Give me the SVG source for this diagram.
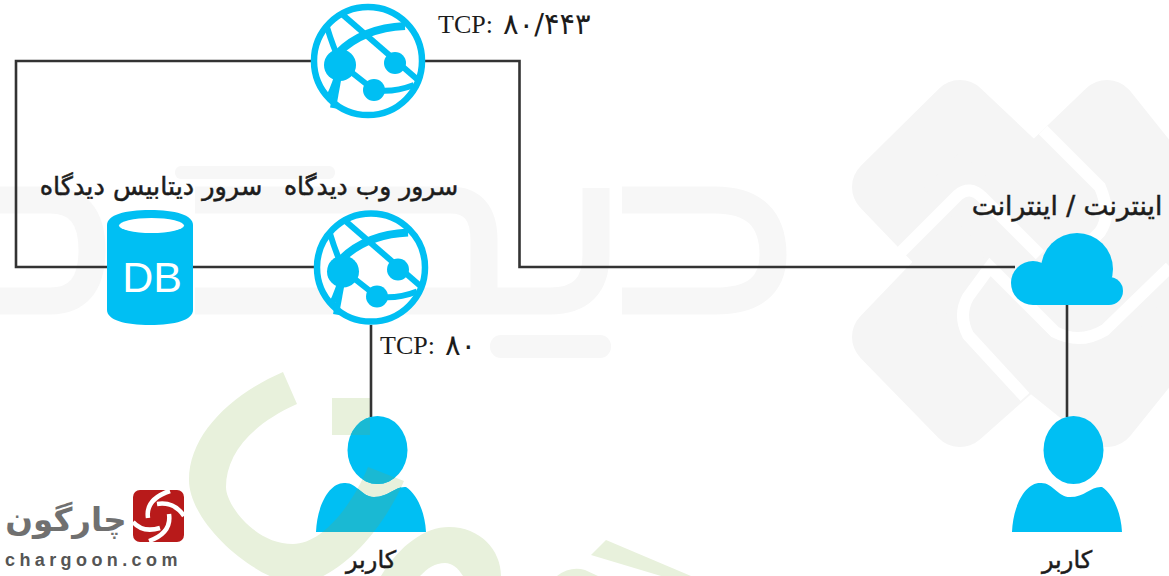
<svg xmlns="http://www.w3.org/2000/svg" width="1169" height="576" viewBox="0 0 1169 576">
<style>
.wm{fill:none;stroke:#f7f7f7;stroke-width:27}
.icon{fill:#00bff3}
.gl{fill:none;stroke:#00bff3;stroke-width:6}
.conn{fill:none;stroke:#333;stroke-width:2.6;stroke-linejoin:miter}
.fa{font-family:"DejaVu Sans","Noto Sans",sans-serif;fill:#1c1c1c;text-anchor:middle;font-weight:400;stroke:#1c1c1c;stroke-width:.5}
.tcp{font-family:"Liberation Serif",serif;font-size:26px;fill:#1c1c1c}
.dig{font-family:"DejaVu Sans",sans-serif;font-size:29px;fill:#1c1c1c}
.green{fill:#e8f1dc}
.over{fill:#1ab9d3}
</style>
<defs>
<g id="globe">
<circle r="54" fill="#fff" stroke="#00bff3" stroke-width="6.500"/>
<path class="gl" d="M-25,-46 L50,19"/>
<path class="gl" style="stroke-width:8" d="M-30,-8 Q-5,-33 37,-35"/>
<path class="gl" d="M-27,3 L6,29 Q25,32 46,24"/>
<path class="gl" d="M-27,3 Q-35,-14 -41,-34"/>
<path class="gl" d="M-27,3 Q-33,24 -39,36"/>
<path class="gl" d="M-27,3 L-35,47"/>
<circle cx="-28" cy="4" r="16" class="icon"/>
<circle cx="27" cy="2" r="11" class="icon"/>
<circle cx="6" cy="29" r="11" class="icon"/>
</g>
<g id="user">
<ellipse cx="6.500" cy="34" rx="30" ry="34" class="icon"/>
<path class="icon" d="M-55,116 C-54,90 -42,67 -27,67 C-14,66 -10,81 3,81 C18,81 24,70 35,71 C46,78 54,96 55,116Z"/>
</g>
<clipPath id="leftUserClip">
<ellipse cx="377.500" cy="450" rx="30" ry="34"/>
<path d="M316,532 C317,506 329,483 344,483 C357,482 361,497 374,497 C389,497 395,486 406,487 C417,494 425,512 426,532Z"/>
</clipPath>
<path id="g1" d="M283,372 L297,404 C250,425 226,455 226,487 C226,505 255,544 293,544 C320,544 350,510 368,467 L404,481 C385,525 345,576 300,584 C260,584 189,525 189,480 C189,435 230,395 283,372Z"/>
</defs>
<rect width="1169" height="576" fill="#fff"/>
<g id="watermark">
<path d="M882,187 L960,110 L1034,180 L1107,110 L1230,264 L1107,417 L1030,355 L960,417 L882,337 L954,262Z" fill="#f5f5f5" stroke="#f5f5f5" stroke-width="60" stroke-linejoin="round"/>
<path d="M900,253 L958,195 Q970,185 982,197 L1040,255 M1043,130 L1100,187 Q1112,215 1100,232 L1040,292 M1025,397 L968,335 Q958,315 968,297 L990,267 L1055,332 Q1080,345 1105,330 L1170,267" fill="none" stroke="#fff" stroke-width="12"/>
<path class="wm" d="M0,200 H50 Q92,200 92,250 Q92,301 50,301 H0"/>
<path class="wm" d="M622,200 H715 Q773,200 773,255 Q773,301 715,301 H622"/>
<path class="wm" d="M195,301 H550 Q596,301 596,255 V188"/>
<path class="wm" d="M195,200 H450 Q484,200 484,240 V301"/>
<rect x="175" y="166" width="160" height="13" rx="6" fill="#f7f7f7"/>
<rect x="490" y="335" width="121" height="23" rx="11" fill="#f7f7f7"/>
</g>
<g id="green-watermark">
<use href="#g1" class="green"/>
<rect class="green" x="332" y="398" width="38" height="37"/>
<path class="green" d="M381,576 C400,545 425,527 449,527 C480,527 501,550 501,576 L463,576 C458,568 452,563 445,563 C435,563 428,568 420,576Z"/>
<path class="green" d="M606,540 L691,576 L661,576 L591,555Z"/>
<path class="green" d="M557,576 Q570,566 585,570 L598,576Z"/>
</g>
<g id="connectors">
<path class="conn" d="M311,61 H16 V267 H107"/>
<path class="conn" d="M193,267 H314"/>
<path class="conn" d="M425,61 H519.500 V267 H1015"/>
<path class="conn" d="M371,325 V417"/>
<path class="conn" d="M1067,305 V417"/>
</g>
<g id="web-top"><use href="#globe" x="368" y="61"/></g>
<g id="web-bottom"><use href="#globe" x="371" y="267.500"/></g>
<g id="database">
<path class="icon" d="M107,225 C107,215 125,210 150,210 C175,210 193,215 193,225 V310 C193,320 175,325 150,325 C125,325 107,320 107,310Z"/>
<ellipse cx="151.500" cy="225.500" rx="32.500" ry="7.500" fill="#fff"/>
<text x="152" y="292" text-anchor="middle" font-family="Liberation Sans, sans-serif" font-size="43" fill="#fff">DB</text>
</g>
<g id="cloud">
<circle cx="1077" cy="269" r="36" class="icon"/>
<circle cx="1033" cy="283" r="22" class="icon"/>
<circle cx="1109" cy="291" r="14" class="icon"/>
<rect x="1033" y="270" width="76" height="35" class="icon"/>
</g>
<g id="user-left">
<use href="#user" x="371" y="416"/>
<g clip-path="url(#leftUserClip)">
<use href="#g1" class="over"/>
<rect class="over" x="332" y="398" width="38" height="37"/>
</g>
</g>
<g id="user-right"><use href="#user" x="1067" y="416"/></g>
<g id="labels">
<text class="fa" x="151" y="195" font-size="25.500" direction="rtl">سرور دیتابیس دیدگاه</text>
<text class="fa" x="371" y="195" font-size="25" direction="rtl">سرور وب دیدگاه</text>
<text class="fa" x="1067" y="215" font-size="26.500" direction="rtl">اینترنت / اینترانت</text>
<text class="fa" x="371" y="568" font-size="24" direction="rtl">کاربر</text>
<text class="fa" x="1067" y="568" font-size="24" direction="rtl">کاربر</text>
<text class="tcp" x="438" y="33">TCP:</text>
<text class="dig" x="503" y="34" letter-spacing="3">۸۰/۴۴۳</text>
<text class="tcp" x="380" y="354">TCP:</text>
<text class="dig" x="445" y="355" letter-spacing="2">۸۰</text>
</g>
<g id="logo">
<rect x="133" y="490" width="51" height="52" rx="7" fill="#b81a1a"/>
<path d="M148,518 C146,505 155,496 170,491 M157,504 C170,502 178,507 184,516 M169,514 C171,527 163,536 149,541 M133,522 C140,530 150,531 160,528" fill="none" stroke="#fff" stroke-width="4.500"/>
<text x="66" y="531" text-anchor="middle" font-family="DejaVu Sans, sans-serif" font-size="32.500" font-weight="700" fill="#707070" direction="rtl">چارگون</text>
<text x="5" y="566" font-family="Liberation Sans, sans-serif" font-size="18" font-weight="700" letter-spacing="4.400" fill="#555">chargoon.com</text>
</g>
</svg>
